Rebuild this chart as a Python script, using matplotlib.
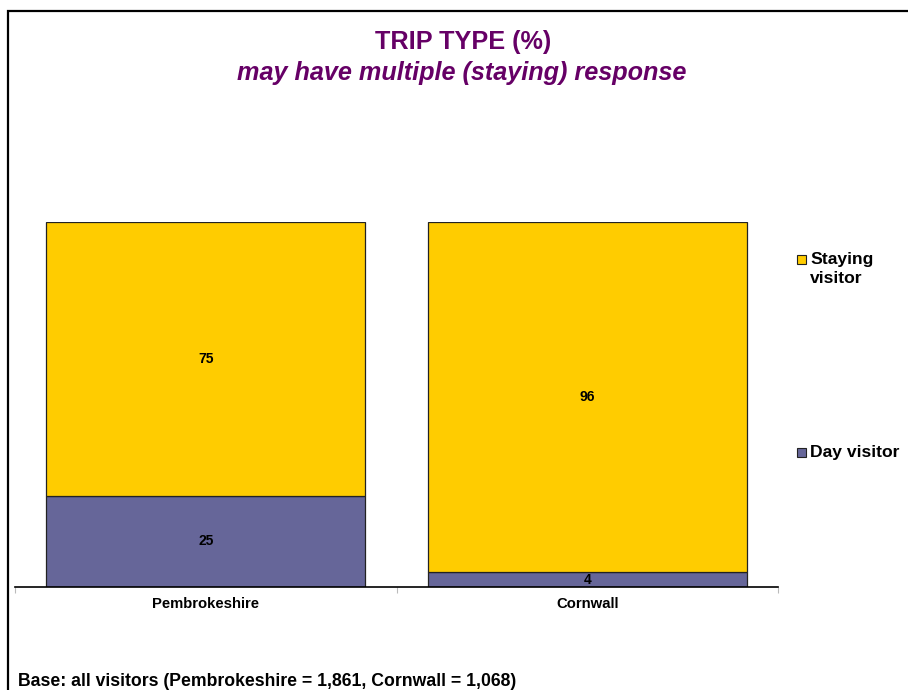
import matplotlib
matplotlib.use("Agg")
import matplotlib.pyplot as plt
from matplotlib.patches import Rectangle

plt.rcParams['font.family'] = ['Liberation Sans', 'DejaVu Sans']
plt.rcParams['font.weight'] = 'bold'

# trip type share by area (%)
areas = ['Pembrokeshire', 'Cornwall']
day_visitor = [25, 4]
staying_visitor = [75, 96]

series = [('Day visitor', day_visitor, '#666699'),
          ('Staying visitor', staying_visitor, '#FFCC00')]

fig = plt.figure(figsize=(9.08, 6.9), dpi=100)
ax = fig.add_axes([15 / 908, 1 - 587 / 690, (778 - 15) / 908, (587 - 222) / 690])

x = range(len(areas))
bottom = [0] * len(areas)
for name, vals, col in series:
    bars = ax.bar(x, vals, width=0.835, bottom=bottom, color=col,
                  edgecolor='#222222', linewidth=0.9, label=name)
    ax.bar_label(bars, label_type='center', fontsize=10, fontweight='bold')
    bottom = [b + v for b, v in zip(bottom, vals)]

ax.set_xlim(-0.5, len(areas) - 0.5)
ax.set_ylim(0, 100)
for s in ['top', 'right', 'left']:
    ax.spines[s].set_visible(False)
ax.spines['bottom'].set_linewidth(1.2)
ax.set_yticks([])

# category boundaries as ticks, names centred between them
ax.set_xticks([i - 0.5 for i in range(len(areas) + 1)])
ax.set_xticklabels([])
ax.tick_params(axis='x', which='major', length=4, color='#bbbbbb', direction='out')
ax.set_xticks(list(x), minor=True)
ax.set_xticklabels(areas, minor=True, fontsize=10.7, fontweight='bold')
ax.tick_params(axis='x', which='minor', length=0, pad=7)

# titles
fig.text(463 / 908, 1 - 42 / 690, 'TRIP TYPE (%)', ha='center', va='center',
         fontsize=18.2, fontweight='bold', color='#660066')
fig.text(462 / 908, 1 - 73 / 690, 'may have multiple (staying) response',
         ha='center', va='center', fontsize=18.2, fontweight='bold',
         style='italic', color='#660066')

# legend, staying first: (label, values, colour, square centre y, text centre y)
legend_rows = [('Staying\nvisitor', staying_visitor, '#FFCC00', 259, 269),
               ('Day visitor', day_visitor, '#666699', 452, 452)]
for label, _, col, ysq, ytxt in legend_rows:
    fig.patches.append(Rectangle((797 / 908, 1 - (ysq + 4.5) / 690), 9 / 908, 9 / 690,
                                 transform=fig.transFigure, facecolor=col,
                                 edgecolor='#222222', linewidth=0.8))
    fig.text(810 / 908, 1 - ytxt / 690, label, ha='left', va='center',
             fontsize=12.6, fontweight='bold', linespacing=1.3)

fig.text(18 / 908, 1 - 681 / 690,
         'Base: all visitors (Pembrokeshire = 1,861, Cornwall = 1,068)',
         ha='left', va='center', fontsize=12.7, fontweight='bold')

# outer frame running off the right and bottom edges
fig.patches.append(Rectangle((8 / 908, -0.1), 1.2, 1.1 - 10.5 / 690,
                             transform=fig.transFigure, fill=False,
                             edgecolor='black', linewidth=1.6))

fig.savefig('out.png', dpi=100)
